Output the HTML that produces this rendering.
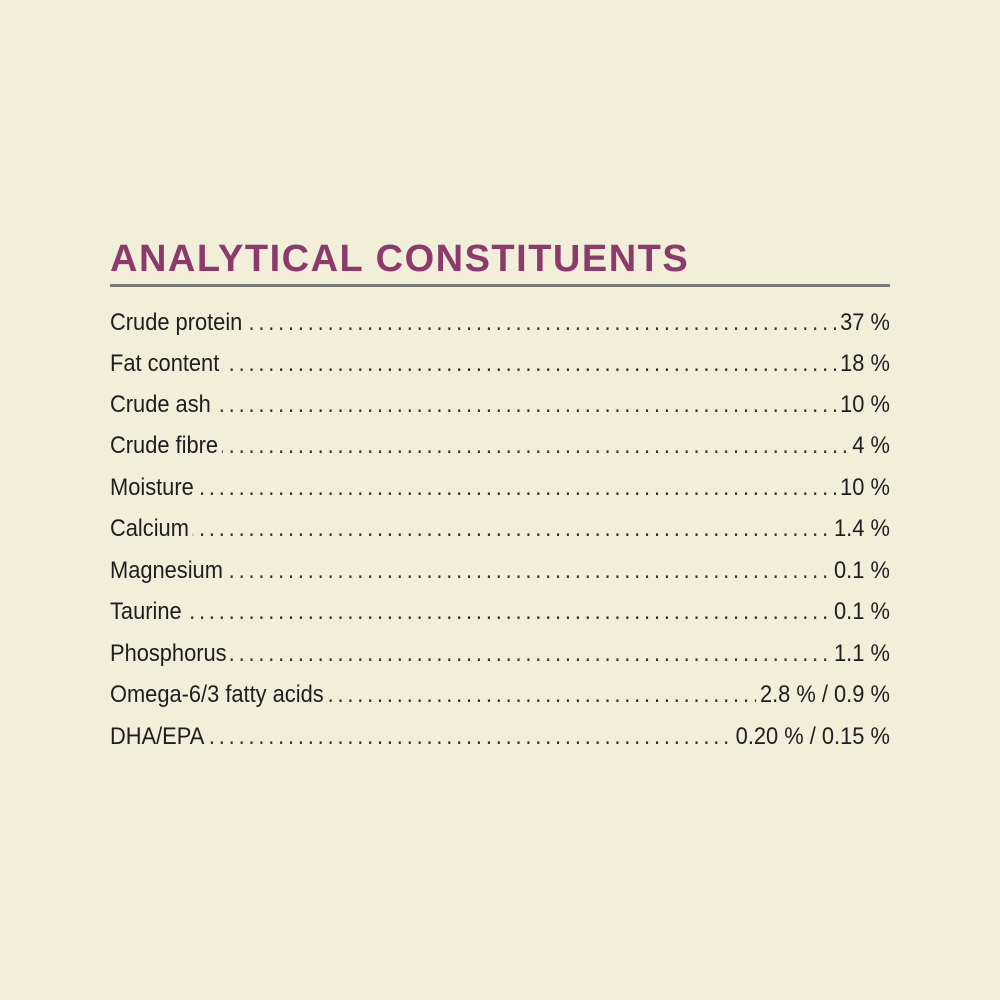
<!DOCTYPE html>
<html><head><style>
html,body{margin:0;padding:0;}
body{width:1000px;height:1000px;background:#f1eed9;position:relative;overflow:hidden;font-family:"Liberation Sans",sans-serif;}
.title{position:absolute;left:110px;top:237px;font-size:38px;font-weight:bold;color:#8b3a6b;letter-spacing:1.5px;line-height:44px;white-space:nowrap;}
.rule{position:absolute;left:110px;top:284px;width:780px;height:3px;background:#7a7a7a;}
.rows{position:absolute;left:110px;top:0;width:857px;transform:scaleX(0.91);transform-origin:0 0;}
.row{position:absolute;left:0;width:857px;height:30px;font-size:24px;line-height:30px;color:#1e1e1e;overflow:hidden;white-space:nowrap;}
.row .d{position:absolute;left:0;right:0;top:0;letter-spacing:4.2px;color:#333;}
.row .l{position:absolute;left:0;top:0;background:#f1eed9;padding-right:4px;}
.row .v{position:absolute;right:0;top:0;background:#f1eed9;padding-left:4px;}
</style></head><body>
<div class="title">ANALYTICAL CONSTITUENTS</div>
<div class="rule"></div>
<div class="rows">
<div class="row" style="top:308px"><span class="d">..............................................................................................</span><span class="l">Crude protein</span><span class="v">37 %</span></div>
<div class="row" style="top:349px"><span class="d">..............................................................................................</span><span class="l">Fat content</span><span class="v">18 %</span></div>
<div class="row" style="top:390px"><span class="d">..............................................................................................</span><span class="l">Crude ash</span><span class="v">10 %</span></div>
<div class="row" style="top:431px"><span class="d">..............................................................................................</span><span class="l">Crude fibre</span><span class="v">4 %</span></div>
<div class="row" style="top:473px"><span class="d">..............................................................................................</span><span class="l">Moisture</span><span class="v">10 %</span></div>
<div class="row" style="top:514px"><span class="d">..............................................................................................</span><span class="l">Calcium</span><span class="v">1.4 %</span></div>
<div class="row" style="top:556px"><span class="d">..............................................................................................</span><span class="l">Magnesium</span><span class="v">0.1 %</span></div>
<div class="row" style="top:597px"><span class="d">..............................................................................................</span><span class="l">Taurine</span><span class="v">0.1 %</span></div>
<div class="row" style="top:639px"><span class="d">..............................................................................................</span><span class="l">Phosphorus</span><span class="v">1.1 %</span></div>
<div class="row" style="top:680px"><span class="d">..............................................................................................</span><span class="l">Omega-6/3 fatty acids</span><span class="v">2.8 % / 0.9 %</span></div>
<div class="row" style="top:722px"><span class="d">..............................................................................................</span><span class="l">DHA/EPA</span><span class="v">0.20 % / 0.15 %</span></div>
</div>
</body></html>
